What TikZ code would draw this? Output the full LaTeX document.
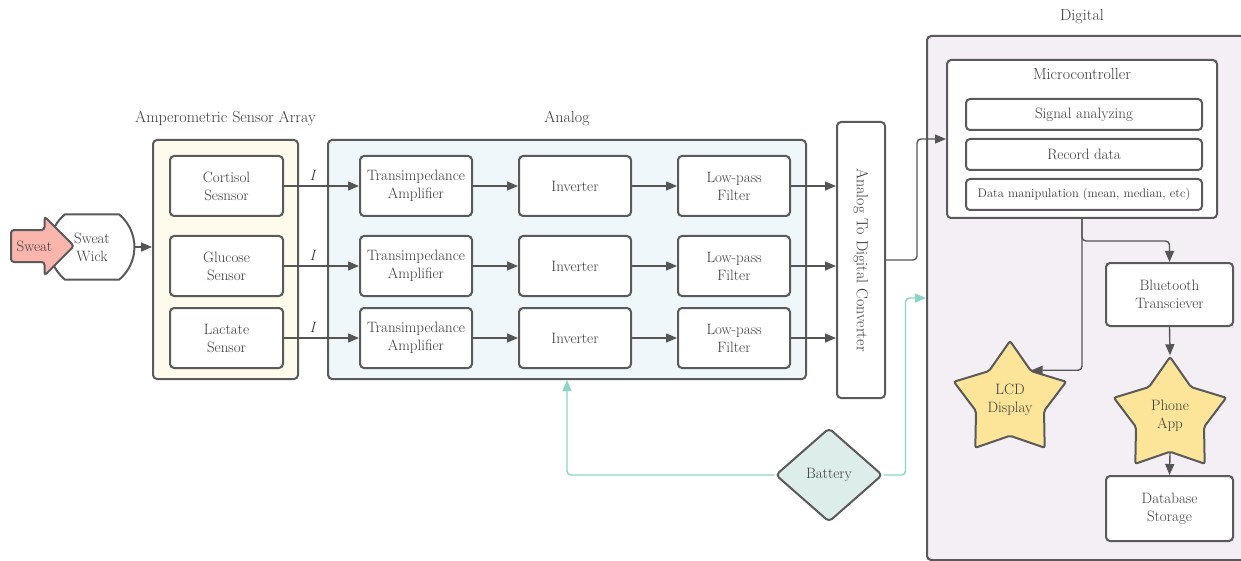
\documentclass[tikz,border=0pt]{standalone}
\usepackage{fontspec}
\usepackage{tikz}
\usetikzlibrary{shapes.geometric, shapes.misc, shapes.arrows, arrows.meta, positioning}
\definecolor{edgegray}{RGB}{90,90,90}
\definecolor{linegray}{RGB}{85,85,85}
\definecolor{txtgray}{RGB}{60,60,60}
\definecolor{sensorbg}{RGB}{254,250,236}
\definecolor{analogbg}{RGB}{239,247,251}
\definecolor{digitalbg}{RGB}{243,239,245}
\definecolor{sweatpink}{RGB}{250,182,172}
\definecolor{staryellow}{RGB}{252,228,152}
\definecolor{batteryfill}{RGB}{220,237,234}
\definecolor{powerteal}{RGB}{140,212,198}

\begin{document}
\begin{tikzpicture}[x=1pt, y=-1pt, text=txtgray,
    font=\fontsize{15}{18}\selectfont,
    grp/.style={draw=edgegray, line width=2pt, rounded corners=4pt},
    blk/.style={draw=edgegray, fill=white, line width=2pt, rounded corners=4pt,
                align=center, inner sep=1pt},
    gadget/.style={draw=edgegray, fill=staryellow, line width=2pt, star, star points=5,
                   star point ratio=1.65, minimum size=118pt, inner sep=0pt,
                   align=center, rounded corners=2pt},
    arr/.style={draw=linegray, line width=1.4pt, -{Triangle[length=11pt, width=9pt]}},
    pwr/.style={draw=powerteal, line width=1.4pt, rounded corners=4pt,
                -{Triangle[length=11pt, width=9pt]}},
    ttl/.style={font=\fontsize{16}{19}\selectfont}]

  \fill[white] (0,0) rectangle (1241,561);
  \useasboundingbox (0,0) rectangle (1241,561);

  % groups
  \node[grp, fill=sensorbg, minimum width=145pt, minimum height=239pt] (sa) at (225.5,259.5) {};
  \node[grp, fill=analogbg, minimum width=478pt, minimum height=239pt] (an) at (567,259.5) {};
  \node[grp, fill=digitalbg, minimum width=330pt, minimum height=524pt] (dig) at (1092,298) {};
  \node[ttl, above=10pt of sa] (sat) {Amperometric Sensor Array};
  \node[ttl, above=10pt of an] (ant) {Analog};
  \node[ttl] (digt) at (1082,17) {Digital};

  % sweat input
  \node[draw=edgegray, fill=white, line width=2pt, rounded rectangle,
        rounded rectangle arc length=100, minimum width=63pt, minimum height=65pt,
        align=center, inner sep=0pt] (wick) at (92,247) {Sweat\\Wick};
  \node[draw=edgegray, fill=sweatpink, line width=2pt, single arrow,
        single arrow head extend=13.5pt, minimum height=63pt, text height=10pt,
        text depth=0pt, inner ysep=10pt, inner xsep=2pt, rounded corners=3pt,
        anchor=west] (sweat) at (10,246) {Sweat};
  \draw[arr] (wick.east) -- (wick.east -| sa.west);

  % three sensor channels
  \foreach \i/\y/\sens in {1/186/{Cortisol\\Sesnsor}, 2/266/{Glucose\\Sensor},
                           3/338/{Lactate\\Sensor}} {
    \node[blk, minimum width=113pt, minimum height=60pt] (sen\i) at (226.5,\y) {\sens};
    \node[blk, minimum width=112pt, minimum height=60pt] (tia\i) at (416,\y) {Transimpedance\\Amplifier};
    \node[blk, minimum width=112pt, minimum height=60pt] (inv\i) at (575,\y) {Inverter};
    \node[blk, minimum width=112pt, minimum height=60pt] (lpf\i) at (734,\y) {Low-pass\\Filter};
  }
  \node[blk, rotate=-90, minimum width=276pt, minimum height=48pt,
        font=\fontsize{16}{19}\selectfont] (adc) at (861,260)
    {Analog To Digital Converter};
  \foreach \i in {1,2,3} {
    \draw[arr] (sen\i) -- node[pos=0.38, above=1pt] {\itshape I} (tia\i);
    \draw[arr] (tia\i) -- (inv\i);
    \draw[arr] (inv\i) -- (lpf\i);
    \draw[arr] (lpf\i) -- (lpf\i -| adc.south);
  }

  % digital side
  \node[blk, minimum width=270pt, minimum height=158pt] (mc) at (1082,139) {};
  \node[ttl, below=6pt of mc.north] (mct) {Microcontroller};
  \foreach \j/\y/\task in {1/114.5/Signal analyzing, 2/154.5/Record data,
      3/194.5/{\fontsize{12.5}{15}\selectfont Data manipulation (mean, median, etc)}} {
    \node[blk, minimum width=236pt, minimum height=31pt] (task\j) at (1084,\y) {\task};
  }
  \node[blk, minimum width=127pt, minimum height=63pt] (bt) at (1169.5,294.5) {Bluetooth\\Transciever};
  \node[gadget] (lcd) at (1010,400) {LCD\\Display};
  \node[gadget] (phone) at (1170,416) {Phone\\App};
  \node[blk, minimum width=127pt, minimum height=65pt] (db) at (1169.5,508.5) {Database\\Storage};

  \draw[arr, rounded corners=4pt] (adc.north) -- ++(31,0) |- (mc.west);
  \draw[arr, rounded corners=4pt] (mc.south) -- ++(0,22) -| (bt.north);
  \draw[arr, rounded corners=4pt] (mc.south) |- (lcd.54);
  \draw[arr] (bt.south) -- (phone.north);
  \draw[arr] (phone.south) -- (db.north);

  % power
  \node[draw=edgegray, fill=batteryfill, line width=2pt, diamond, minimum width=107pt,
        minimum height=94pt, inner sep=0pt, rounded corners=4pt] (bat) at (829,475) {Battery};
  \draw[pwr] (bat.west) -| (an.south);
  \draw[pwr] (bat.east) -- ++(22,0) |- (dig.west);
\end{tikzpicture}
\end{document}
